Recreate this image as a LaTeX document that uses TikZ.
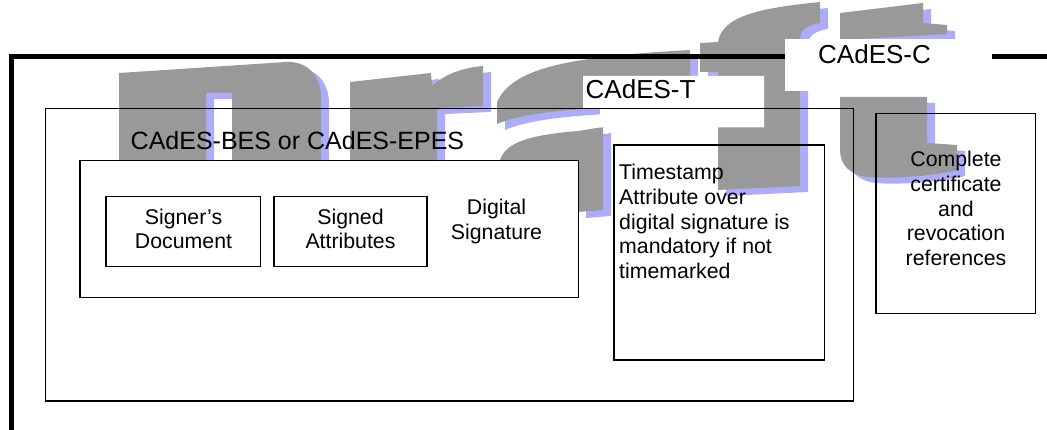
\documentclass[tikz,border=0pt]{standalone}
\usepackage{fontspec}
\setmainfont{Liberation Sans}
\definecolor{wmgray}{RGB}{153,153,153}
\definecolor{wmblue}{RGB}{172,172,248}
\tikzset{
  boxstyle/.style={draw=black, line width=1.3pt, inner sep=0pt, outer sep=0pt},
  lbl/.style={font=\fontsize{26}{30}\selectfont, inner sep=0pt, anchor=base west},
  txt/.style={font=\fontsize{21.3}{24.6}\selectfont, inner sep=0pt, anchor=base},
  txtl/.style={txt, anchor=base west},
}
\newcommand\draftletters{%
  (119,73) -- (286,62) .. controls (306,61) and (321,74) .. (321,98) -- (321,170) -- (232,170) -- (232,93) -- (206,93) -- (206,170) -- (119,170) -- cycle
  (350,82) -- (431,73) -- (432,86) .. controls (445,74) and (462,68) .. (483,66) -- (483,106) -- (437,108) -- (437,170) -- (350,170) -- cycle
  (497,124) -- (497,102) .. controls (512,70) and (560,57) .. (690,50) -- (690,90) -- (600,108) .. controls (560,110) and (520,114) .. (497,124) -- cycle
  (500,170) -- (500,160) .. controls (506,142) and (530,135) .. (578,131) -- (603,127) -- (603,210) -- (578,212) -- (578,170) -- cycle
  (718,190) -- (718,72) -- (700,72) -- (700,43) -- (718,42) .. controls (722,16) and (760,8) .. (820,2) -- (820,23) .. controls (806,25) and (800,31) .. (800,38) -- (800,40) -- (840,39) -- (840,70) -- (800,71) -- (800,186) -- cycle
  (840,13) -- (923,3) -- (923,23) -- (947,25) -- (947,34) -- (840,40) -- cycle
  (840,97) -- (927,97) -- (927,143) -- (957,145) -- (957,170) .. controls (935,176) and (890,179) .. (868,177) .. controls (850,175) and (840,165) .. (840,150) -- cycle
}
\begin{document}
\begin{tikzpicture}[x=1pt,y=-1pt]
\useasboundingbox (0,0) rectangle (1047,430);
\clip (0,0) rectangle (1047,430);
% watermark
\fill[wmblue, shift={(8,6)}] \draftletters;
\fill[wmgray] \draftletters;
% outer CAdES-C frame
\draw[line width=4.8pt, line join=miter] (11.7,445) -- (11.7,56.7) -- (1065,56.7);
% white label backgrounds
\fill[white] (785,38.7) rectangle (992,90.7);
\fill[white] (583,76) -- (764,76) -- (764,127.3) -- (600,127.3) -- (600,108.3) -- (583,108.3) -- cycle;
% frames and boxes
\node[boxstyle, minimum width=807.8, minimum height=292.7] (tframe) at (449.6,254.65) {};
\node[boxstyle, fill=white, minimum width=498.8, minimum height=137.3] (bes) at (329.4,229.15) {};
\node[boxstyle, minimum width=154.7, minimum height=69.8] (doc) at (183.35,231.6) {};
\node[boxstyle, minimum width=153, minimum height=69.8] (attr) at (350.5,231.6) {};
\node[boxstyle, minimum width=210.7, minimum height=215] (ts) at (719.35,252.5) {};
\node[boxstyle, minimum width=159.3, minimum height=199.8] (refs) at (955.65,213.4) {};
% labels
\node[lbl, font=\fontsize{25}{30}\selectfont] (besl) at (130.5,149.3) {CAdES-BES or CAdES-EPES};
\node[lbl] (tl) at (585.5,99) {CAdES-T};
\node[lbl] (cl) at (818,63.2) {CAdES-C};
% inner texts
\node[txt] (doc1) at (183.5,224.5) {Signer’s};
\node[txt] (doc2) at (183.5,249) {Document};
\node[txt] (attr1) at (350.5,224.5) {Signed};
\node[txt] (attr2) at (350.5,249) {Attributes};
\node[txt] (sig1) at (496.5,214.5) {Digital};
\node[txt] (sig2) at (496.5,239.5) {Signature};
\node[txtl] (ts1) at (619,180) {Timestamp};
\node[txtl] (ts2) at (619,204.6) {Attribute over};
\node[txtl] (ts3) at (619,229.2) {digital signature is};
\node[txtl] (ts4) at (619,253.8) {mandatory if not};
\node[txtl] (ts5) at (619,278.4) {timemarked};
\node[txt] (r1) at (956,166.7) {Complete};
\node[txt] (r2) at (956,191.5) {certificate};
\node[txt] (r3) at (956,216.3) {and};
\node[txt] (r4) at (956,241) {revocation};
\node[txt] (r5) at (956,265.8) {references};
\end{tikzpicture}
\end{document}
